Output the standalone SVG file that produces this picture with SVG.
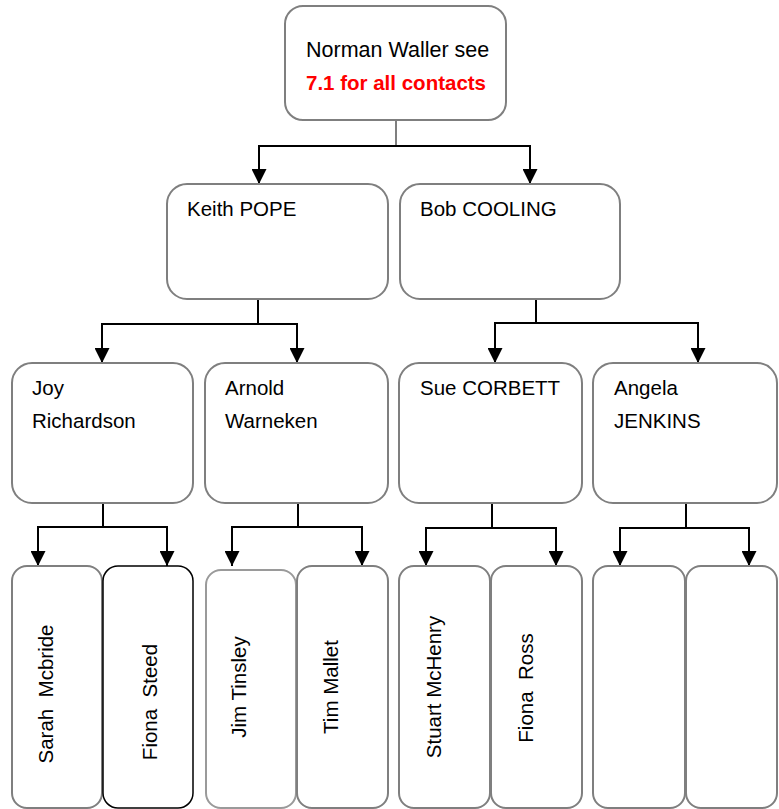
<svg xmlns="http://www.w3.org/2000/svg" width="779" height="809" viewBox="0 0 779 809">
<style>
.box{fill:#fff;stroke:#7f7f7f;stroke-width:2}
.t{font-family:"Liberation Sans",Arial,sans-serif;font-size:20.5px;fill:#000}
.red{font-family:"Liberation Sans",Arial,sans-serif;font-size:20.5px;font-weight:bold;fill:#ff0000}
.c{fill:none;stroke:#000;stroke-width:2}
.a{fill:none;stroke:#000;stroke-width:2;marker-end:url(#arr)}
</style>
<defs>
<marker id="arr" markerUnits="userSpaceOnUse" markerWidth="15" markerHeight="15" viewBox="0 0 15 15" refX="15" refY="7.5" orient="auto">
<path d="M0,0 L15,7.5 L0,15 z" fill="#000"/>
</marker>
</defs>
<rect width="779" height="809" fill="#fff"/>
<g id="connectors">
<path d="M396,120 V146" fill="none" stroke="#7f7f7f" stroke-width="2"/>
<path class="c" d="M259,146 H530"/>
<path class="a" d="M259,145 V184"/>
<path class="a" d="M530,145 V184"/>
<path class="c" d="M258,299 V324 M102,324 H297"/>
<path class="a" d="M102,323 V363"/>
<path class="a" d="M297,323 V363"/>
<path class="c" d="M536,299 V323 M495,323 H698"/>
<path class="a" d="M495,322 V363"/>
<path class="a" d="M698,322 V363"/>
<path class="c" d="M103,503 V527 M38,527 H167"/>
<path class="a" d="M38,526 V566"/>
<path class="a" d="M167,526 V566"/>
<path class="c" d="M298,503 V527 M232,527 H362"/>
<path class="a" d="M232,526 V566"/>
<path class="a" d="M362,526 V566"/>
<path class="c" d="M492,503 V528 M426,528 H556"/>
<path class="a" d="M426,527 V566"/>
<path class="a" d="M556,527 V566"/>
<path class="c" d="M686,503 V528 M620,528 H749"/>
<path class="a" d="M620,527 V566"/>
<path class="a" d="M749,527 V566"/>
</g>
<g id="norman">
<rect class="box" x="285" y="6" width="221" height="114" rx="18"/>
<text class="t" x="306" y="57" style="font-size:21.5px">Norman Waller see</text>
<text class="red" x="306" y="90">7.1 for all contacts</text>
</g>
<g id="keith">
<rect class="box" x="167" y="184" width="221" height="115" rx="20"/>
<text class="t" x="187" y="216">Keith POPE</text>
</g>
<g id="bob">
<rect class="box" x="400" y="184" width="220" height="115" rx="20"/>
<text class="t" x="420" y="216">Bob COOLING</text>
</g>
<g id="joy">
<rect class="box" x="12" y="363" width="181" height="140" rx="20"/>
<text class="t" x="32" y="395">Joy</text>
<text class="t" x="32" y="428">Richardson</text>
</g>
<g id="arnold">
<rect class="box" x="205" y="363" width="183" height="140" rx="20"/>
<text class="t" x="225" y="395">Arnold</text>
<text class="t" x="225" y="428">Warneken</text>
</g>
<g id="sue">
<rect class="box" x="399" y="363" width="183" height="140" rx="20"/>
<text class="t" x="420" y="395">Sue CORBETT</text>
</g>
<g id="angela">
<rect class="box" x="593" y="363" width="184" height="140" rx="20"/>
<text class="t" x="614" y="395">Angela</text>
<text class="t" x="614" y="428">JENKINS</text>
</g>
<g id="sarah">
<rect class="box" x="12" y="566" width="90" height="242" rx="15"/>
<text class="t" transform="translate(53,694) rotate(-90)" text-anchor="middle" xml:space="preserve">Sarah  Mcbride</text>
</g>
<g id="fiona-steed">
<rect class="box" x="103" y="566" width="90" height="242" rx="15" style="stroke:#000;stroke-width:1.5"/>
<text class="t" transform="translate(157,702) rotate(-90)" text-anchor="middle" xml:space="preserve">Fiona  Steed</text>
</g>
<g id="jim">
<rect class="box" x="206" y="570" width="90" height="238" rx="15" style="stroke:#9a9a9a"/>
<text class="t" transform="translate(246,687) rotate(-90)" text-anchor="middle">Jim Tinsley</text>
</g>
<g id="tim">
<rect class="box" x="297" y="566" width="91" height="242" rx="15"/>
<text class="t" transform="translate(338,687) rotate(-90)" text-anchor="middle">Tim Mallet</text>
</g>
<g id="stuart">
<rect class="box" x="399" y="566" width="91" height="242" rx="15"/>
<text class="t" transform="translate(441,687) rotate(-90)" text-anchor="middle">Stuart McHenry</text>
</g>
<g id="fiona-ross">
<rect class="box" x="491" y="566" width="91" height="242" rx="15"/>
<text class="t" transform="translate(533,688) rotate(-90)" text-anchor="middle" xml:space="preserve">Fiona  Ross</text>
</g>
<g id="empty1">
<rect class="box" x="593" y="566" width="92" height="242" rx="15"/>
</g>
<g id="empty2">
<rect class="box" x="686" y="566" width="91" height="242" rx="15"/>
</g>
</svg>
